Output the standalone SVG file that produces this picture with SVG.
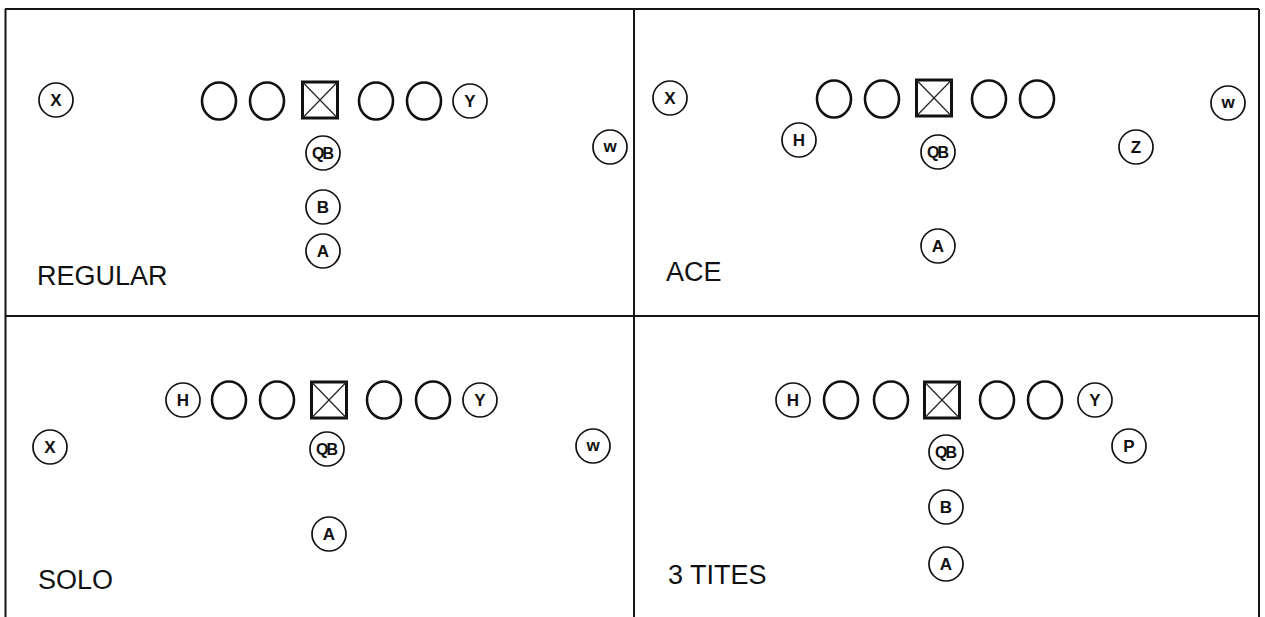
<svg xmlns="http://www.w3.org/2000/svg" xmlns:xlink="http://www.w3.org/1999/xlink" width="1265" height="617" viewBox="0 0 1265 617">
<style>
.frame{fill:none;stroke:#151515;stroke-width:2}
.lm{fill:none;stroke:#111;stroke-width:2.6}
.pc{fill:#fff;stroke:#111;stroke-width:1.7}
.ctr{fill:none;stroke:#111;stroke-width:3}
.diag{stroke:#222;stroke-width:1.2}
.lbl{font-family:"Liberation Sans",Arial,sans-serif;font-size:17px;font-weight:bold;fill:#111;text-anchor:middle}
.qb{font-family:"Liberation Sans",Arial,sans-serif;font-size:16px;font-weight:bold;fill:#111;text-anchor:middle;letter-spacing:-2px}
.w{font-family:"Liberation Sans",Arial,sans-serif;font-size:17px;font-weight:bold;fill:#111;text-anchor:middle}
.title{font-family:"Liberation Sans",Arial,sans-serif;font-size:27px;fill:#111}
</style>
<defs>
<g id="lineman"><ellipse cx="0" cy="0" rx="17" ry="18.5" class="lm"/></g>
<g id="center"><rect x="-17.5" y="-18" width="35" height="36" class="ctr"/><line x1="-17.5" y1="-18" x2="17.5" y2="18" class="diag"/><line x1="17.5" y1="-18" x2="-17.5" y2="18" class="diag"/></g>
<g id="ring"><circle cx="0" cy="0" r="17" class="pc"/></g>
</defs>
<rect width="1265" height="617" fill="#fff"/>
<g id="frame">
<line x1="5" y1="9" x2="1259" y2="9" class="frame"/>
<line x1="5.5" y1="9" x2="5.5" y2="617" class="frame"/>
<line x1="1259" y1="9" x2="1259" y2="617" class="frame"/>
<line x1="634" y1="9" x2="634" y2="617" class="frame"/>
<line x1="5" y1="316" x2="1259" y2="316" class="frame"/>
</g>

<g id="regular">
<g id="r-x"><use xlink:href="#ring" x="56" y="100"/><text x="56" y="106" class="lbl">X</text></g>
<g id="r-l1"><use xlink:href="#lineman" x="219" y="101"/></g>
<g id="r-l2"><use xlink:href="#lineman" x="267" y="101"/></g>
<g id="r-c"><use xlink:href="#center" x="320" y="100"/></g>
<g id="r-l4"><use xlink:href="#lineman" x="376" y="101"/></g>
<g id="r-l5"><use xlink:href="#lineman" x="424" y="101"/></g>
<g id="r-y"><use xlink:href="#ring" x="470" y="101"/><text x="470" y="107" class="lbl">Y</text></g>
<g id="r-qb"><use xlink:href="#ring" x="323" y="153"/><text x="322" y="159" class="qb">QB</text></g>
<g id="r-b"><use xlink:href="#ring" x="323" y="207"/><text x="323" y="213" class="lbl">B</text></g>
<g id="r-a"><use xlink:href="#ring" x="323" y="251"/><text x="323" y="257" class="lbl">A</text></g>
<g id="r-w"><use xlink:href="#ring" x="610" y="147"/><text x="610" y="152" class="w">w</text></g>
<text x="37" y="285" class="title">REGULAR</text>
</g>

<g id="ace">
<g id="a-x"><use xlink:href="#ring" x="670" y="98"/><text x="670" y="104" class="lbl">X</text></g>
<g id="a-l1"><use xlink:href="#lineman" x="834" y="99"/></g>
<g id="a-l2"><use xlink:href="#lineman" x="882" y="99"/></g>
<g id="a-c"><use xlink:href="#center" x="934" y="98"/></g>
<g id="a-l4"><use xlink:href="#lineman" x="989" y="99"/></g>
<g id="a-l5"><use xlink:href="#lineman" x="1037" y="99"/></g>
<g id="a-h"><use xlink:href="#ring" x="799" y="140"/><text x="799" y="146" class="lbl">H</text></g>
<g id="a-qb"><use xlink:href="#ring" x="938" y="152"/><text x="937" y="158" class="qb">QB</text></g>
<g id="a-z"><use xlink:href="#ring" x="1136" y="147"/><text x="1136" y="153" class="lbl">Z</text></g>
<g id="a-w"><use xlink:href="#ring" x="1228" y="103"/><text x="1228" y="108" class="w">w</text></g>
<g id="a-a"><use xlink:href="#ring" x="938" y="246"/><text x="938" y="252" class="lbl">A</text></g>
<text x="666" y="281" class="title">ACE</text>
</g>

<g id="solo">
<g id="s-h"><use xlink:href="#ring" x="183" y="400"/><text x="183" y="406" class="lbl">H</text></g>
<g id="s-l1"><use xlink:href="#lineman" x="229" y="400"/></g>
<g id="s-l2"><use xlink:href="#lineman" x="277" y="400"/></g>
<g id="s-c"><use xlink:href="#center" x="329" y="400"/></g>
<g id="s-l4"><use xlink:href="#lineman" x="384" y="400"/></g>
<g id="s-l5"><use xlink:href="#lineman" x="433" y="400"/></g>
<g id="s-y"><use xlink:href="#ring" x="480" y="400"/><text x="480" y="406" class="lbl">Y</text></g>
<g id="s-x"><use xlink:href="#ring" x="50" y="447"/><text x="50" y="453" class="lbl">X</text></g>
<g id="s-qb"><use xlink:href="#ring" x="327" y="449"/><text x="326" y="455" class="qb">QB</text></g>
<g id="s-w"><use xlink:href="#ring" x="593" y="446"/><text x="593" y="451" class="w">w</text></g>
<g id="s-a"><use xlink:href="#ring" x="329" y="534"/><text x="329" y="540" class="lbl">A</text></g>
<text x="38" y="589" class="title">SOLO</text>
</g>

<g id="three-tites">
<g id="t-h"><use xlink:href="#ring" x="793" y="400"/><text x="793" y="406" class="lbl">H</text></g>
<g id="t-l1"><use xlink:href="#lineman" x="841" y="400"/></g>
<g id="t-l2"><use xlink:href="#lineman" x="891" y="400"/></g>
<g id="t-c"><use xlink:href="#center" x="942" y="400"/></g>
<g id="t-l4"><use xlink:href="#lineman" x="997" y="400"/></g>
<g id="t-l5"><use xlink:href="#lineman" x="1045" y="400"/></g>
<g id="t-y"><use xlink:href="#ring" x="1095" y="400"/><text x="1095" y="406" class="lbl">Y</text></g>
<g id="t-qb"><use xlink:href="#ring" x="946" y="452"/><text x="945" y="458" class="qb">QB</text></g>
<g id="t-p"><use xlink:href="#ring" x="1129" y="446"/><text x="1129" y="452" class="lbl">P</text></g>
<g id="t-b"><use xlink:href="#ring" x="946" y="507"/><text x="946" y="513" class="lbl">B</text></g>
<g id="t-a"><use xlink:href="#ring" x="946" y="564"/><text x="946" y="570" class="lbl">A</text></g>
<text x="668" y="584" class="title">3 TITES</text>
</g>
</svg>
